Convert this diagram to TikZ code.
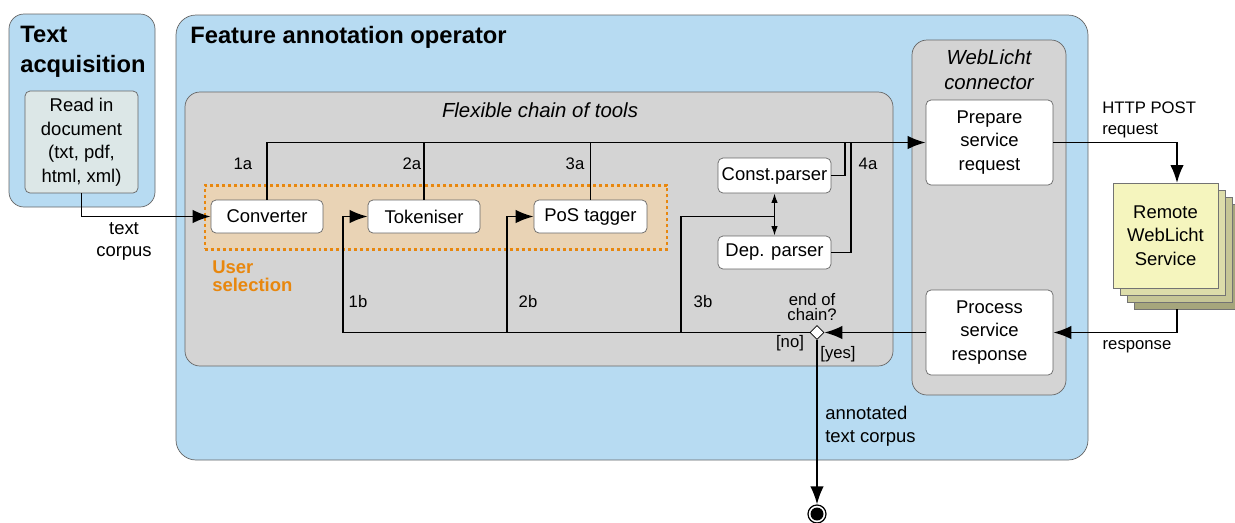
\documentclass[tikz,border=0pt]{standalone}
\usepackage{fontspec}
\setmainfont{Liberation Sans}
\usetikzlibrary{fit,positioning,shapes.geometric,arrows.meta}
\definecolor{colorop}{HTML}{B7DBF2}
\definecolor{colorchain}{HTML}{D4D4D4}
\definecolor{colorread}{HTML}{DCE7E7}
\definecolor{colorsel}{HTML}{E9D3B5}
\definecolor{colorusr}{HTML}{E8870E}
\definecolor{colorrema}{HTML}{F5F5BE}
\definecolor{colorremb}{HTML}{DDDDAA}
\definecolor{colorremc}{HTML}{C6C696}
\definecolor{colorremd}{HTML}{A6A67C}
\tikzset{opbox/.style={draw=black!60, fill=colorop, rounded corners=3mm, inner sep=0pt}}
\tikzset{chainbox/.style={draw=black!60, fill=colorchain, rounded corners=3mm, inner sep=0pt}}
\tikzset{selbox/.style={draw=colorusr, line width=1.7pt, dash pattern=on 1.7pt off 1.7pt, fill=colorsel, inner sep=0pt}}
\tikzset{
  task/.style={draw=black!60, fill=white, rounded corners=1mm, align=center, inner sep=1pt,
    font=\fontsize{10.5}{13.4}\selectfont, minimum width=2.24cm, minimum height=0.66cm},
  remote/.style={draw=black!55, fill=#1, minimum width=2.1cm, minimum height=2.1cm, inner sep=0pt},
  decision/.style={diamond, draw, fill=white, inner sep=0pt, minimum size=0.28cm},
  endstate/.style={circle, draw, line width=0.7pt, inner sep=0pt, minimum size=0.36cm,
    path picture={\fill (path picture bounding box.center) circle (0.13cm);}},
  ttl/.style={font=\fontsize{13.5}{17}\selectfont\bfseries, align=left, inner sep=0pt},
  sub/.style={font=\fontsize{11.6}{14.2}\selectfont\itshape, align=center, inner sep=0pt},
  lbl/.style={font=\fontsize{9.5}{12}\selectfont, align=left, inner sep=0pt},
  txt/.style={font=\fontsize{10.5}{13}\selectfont, align=left, inner sep=0pt},
  flow/.style={line width=1.1pt, -{Latex[length=0.36cm, width=0.27cm]}},
  swap/.style={line width=0.8pt, {Latex[length=0.19cm, width=0.13cm]}-{Latex[length=0.19cm, width=0.13cm]}},
  bus/.style={line width=1.1pt}
}
\begin{document}
\begin{tikzpicture}[x=0.02cm, y=-0.02cm]
\useasboundingbox (0,0) rectangle (1235,522);
% containers
\node[opbox, fit={(9,14) (155,207)}] (acq) {};
\node[opbox, rounded corners=4mm, fit={(176,15) (1088,460)}] (annop) {};
\node[chainbox, fit={(185,92) (893,366)}] (chain) {};
\node[chainbox, fit={(912,40) (1066,395)}] (wlconn) {};
\node[selbox, fit={(205,185) (667,249)}] (usel) {};
\node[ttl, anchor=west] (acqt) at (20,52) {Text\\acquisition};
\node[ttl, anchor=west] (annopt) at (190,37) {Feature annotation operator};
\node[sub] (chaint) at (540,110) {Flexible chain of tools};
\node[sub] (wlconnt) at (989,70) {WebLicht\\connector};
\node[txt, font=\fontsize{10.5}{10.4}\selectfont\bfseries, text=colorusr, anchor=west] (uselt) at (212,276) {User\\selection};
% tasks
\node[task, fill=colorread, minimum width=2.26cm, minimum height=2.04cm] (read) at (81.5,142) {Read in\\document\\(txt, pdf,\\html, xml)};
\node[task] (conv) at (267,216.5) {Converter};
\node[task] (tok) at (424,216.5) {Tokeniser};
\node[task, minimum width=2.26cm] (pos) at (590.5,216.5) {PoS tagger};
\node[task, minimum width=2.26cm, minimum height=0.7cm] (const) at (774.5,175.5) {Const.parser};
\node[task, minimum width=2.26cm] (dep) at (774.5,252.5) {Dep. parser};
\node[task, minimum width=2.54cm, minimum height=1.7cm] (prep) at (989.5,142.5) {Prepare\\service\\request};
\node[task, minimum width=2.54cm, minimum height=1.7cm] (proc) at (989.5,332.5) {Process\\service\\response};
\node[remote=colorremd] (remoted) at (1186.5,256.5) {};
\node[remote=colorremc] (remotec) at (1179.5,249.5) {};
\node[remote=colorremb] (remoteb) at (1172.5,242.5) {};
\node[remote=colorrema, align=center, font=\fontsize{10.5}{13.4}\selectfont] (remotea) at (1165.5,235.5) {Remote\\WebLicht\\Service};
\node[decision] (dec) at (817,332.5) {};
\node[endstate] (end) at (817,514) {};
\coordinate (j4a) at (845,142.5);
\coordinate (j4b) at (851,142.5);
\coordinate (b1) at (343,332.5);
\coordinate (b2) at (507,332.5);
\coordinate (b3) at (681,332.5);
\coordinate (rin) at (1177,183);
\coordinate (rout) at (1177,309);
% connectors
\draw[flow] (read.south) |- (conv.west);
\draw[flow] (conv.north) |- (prep.west);
\draw[bus] (tok.north) -- (tok.north |- prep.west);
\draw[bus] (pos.north) -- (pos.north |- prep.west);
\draw[bus] (const.east) -| (j4a);
\draw[bus] (dep.east) -| (j4b);
\draw[swap] (const.south) -- (dep.north);
\draw[flow] (proc.west) -- (dec.east);
\draw[flow] (dec.west) -- (b1) |- (tok.west);
\draw[flow] (b2) |- (pos.west);
\draw[bus] (b3) |- (const.south |- pos.west);
\draw[flow] (prep.east) -| (rin);
\draw[flow] (rout) |- (proc.east);
\draw[flow] (dec.south) -- (end.north);
% labels
\node[txt, align=center] (lread) at (124,241.5) {text\\corpus};
\node[lbl] (l1a) at (243,164) {1a};
\node[lbl] (l2a) at (412,164) {2a};
\node[lbl] (l3a) at (575,164) {3a};
\node[lbl] (l4a) at (868,164) {4a};
\node[lbl] (l1b) at (358,302) {1b};
\node[lbl] (l2b) at (528,302) {2b};
\node[lbl] (l3b) at (703,302) {3b};
\node[lbl, align=center, font=\fontsize{9.5}{8.6}\selectfont] (ldec) at (812,307) {end of\\chain?};
\node[lbl] (lno) at (790,343) {[no]};
\node[lbl] (lyes) at (838,354) {[yes]};
\node[lbl, anchor=west] (lhttp) at (1102,119.5) {HTTP POST\\request};
\node[lbl] (lresp) at (1137,347) {response};
\node[txt, anchor=west] (lout) at (825,426.5) {annotated\\text corpus};
\end{tikzpicture}
\end{document}
